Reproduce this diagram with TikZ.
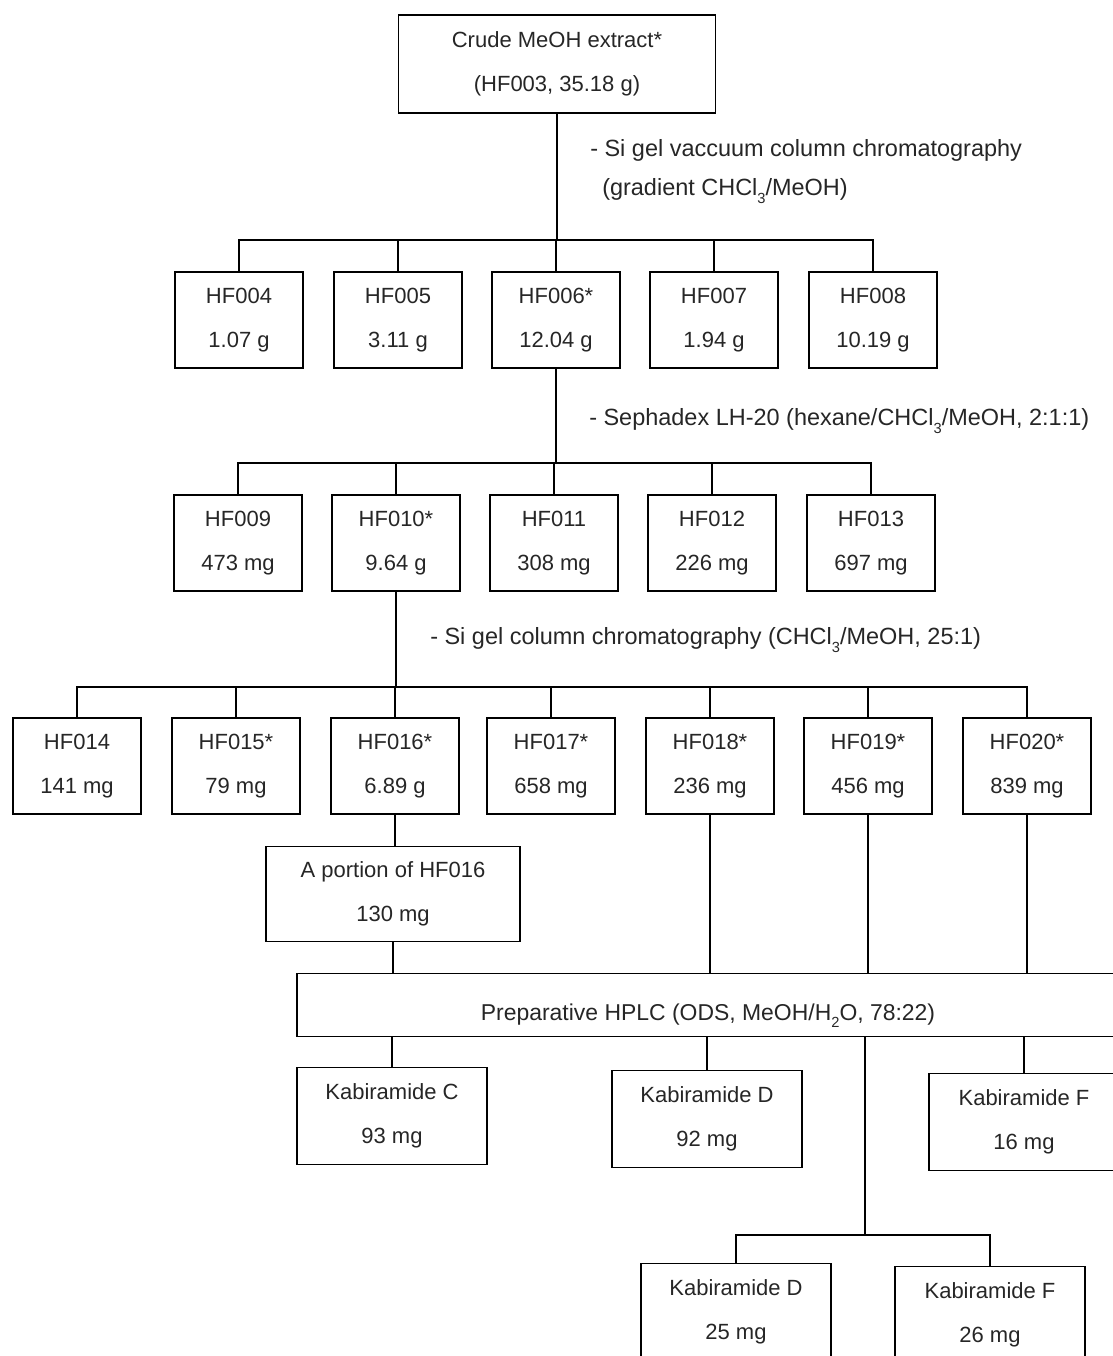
\documentclass[tikz,border=0pt]{standalone}
\usepackage{fontspec}
\setmainfont{Liberation Sans}
\newcommand\subn[1]{\raisebox{-0.6ex}{\fontsize{11}{11}\selectfont #1}}
\begin{document}
\begin{tikzpicture}[x=0.75pt,y=-0.75pt,
  every node/.style={font=\fontsize{16.5}{33}\selectfont, text=black!85},
  box/.style={draw=black, line width=1.3pt, inner sep=0pt, align=center,
    execute at begin node={\rule{0pt}{28pt}}},
  sbox/.style={box, minimum width=96pt, minimum height=72pt},
  kbox/.style={box, minimum width=143pt, minimum height=72.75pt},
  conn/.style={draw=black, line width=1.3pt},
  lbl/.style={anchor=west, inner sep=0pt, font=\fontsize{17.6}{20}\selectfont}]
\useasboundingbox (0,0) rectangle (1113,1356);
\clip (0,0) rectangle (1113,1356);

% top
\node[box, minimum width=237.75pt, minimum height=73.5pt] (top) at (557,64) {Crude MeOH extract*\\(HF003, 35.18 g)};
\coordinate (b1) at (557,240);
\node[lbl] (l1a) at (590,150) {- Si gel vaccuum column chromatography};
\node[lbl] (l1b) at (602,191) {(gradient CHCl\subn{3}/MeOH)};

% row 1
\node[sbox] (hf004) at (239,320) {HF004\\1.07 g};
\node[sbox] (hf005) at (398,320) {HF005\\3.11 g};
\node[sbox] (hf006) at (556,320) {HF006*\\12.04 g};
\node[sbox] (hf007) at (714,320) {HF007\\1.94 g};
\node[sbox] (hf008) at (873,320) {HF008\\10.19 g};

\draw[conn] (top.south) -- (b1);
\draw[conn] (hf004.north) -- (hf004.north |- b1) -- (hf008.north |- b1) -- (hf008.north);
\draw[conn] (hf005.north) -- (hf005.north |- b1);
\draw[conn] (hf006.north) -- (hf006.north |- b1);
\draw[conn] (hf007.north) -- (hf007.north |- b1);

% row 2
\coordinate (b2) at (556,463);
\node[lbl] (l2) at (589,421) {- Sephadex LH-20 (hexane/CHCl\subn{3}/MeOH, 2:1:1)};
\node[sbox] (hf009) at (238,543) {HF009\\473 mg};
\node[sbox] (hf010) at (396,543) {HF010*\\9.64 g};
\node[sbox] (hf011) at (554,543) {HF011\\308 mg};
\node[sbox] (hf012) at (712,543) {HF012\\226 mg};
\node[sbox] (hf013) at (871,543) {HF013\\697 mg};

\draw[conn] (hf006.south) -- (b2);
\draw[conn] (hf009.north) -- (hf009.north |- b2) -- (hf013.north |- b2) -- (hf013.north);
\draw[conn] (hf010.north) -- (hf010.north |- b2);
\draw[conn] (hf011.north) -- (hf011.north |- b2);
\draw[conn] (hf012.north) -- (hf012.north |- b2);

% row 3
\coordinate (b3) at (396,687);
\node[lbl] (l3) at (430,640) {- Si gel column chromatography (CHCl\subn{3}/MeOH, 25:1)};
\node[sbox] (hf014) at (77,766) {HF014\\141 mg};
\node[sbox] (hf015) at (236,766) {HF015*\\79 mg};
\node[sbox] (hf016) at (395,766) {HF016*\\6.89 g};
\node[sbox] (hf017) at (551,766) {HF017*\\658 mg};
\node[sbox] (hf018) at (710,766) {HF018*\\236 mg};
\node[sbox] (hf019) at (868,766) {HF019*\\456 mg};
\node[sbox] (hf020) at (1027,766) {HF020*\\839 mg};

\draw[conn] (hf010.south) -- (b3);
\draw[conn] (hf014.north) -- (hf014.north |- b3) -- (hf020.north |- b3) -- (hf020.north);
\draw[conn] (hf015.north) -- (hf015.north |- b3);
\draw[conn] (hf016.north) -- (hf016.north |- b3);
\draw[conn] (hf017.north) -- (hf017.north |- b3);
\draw[conn] (hf018.north) -- (hf018.north |- b3);
\draw[conn] (hf019.north) -- (hf019.north |- b3);

% portion
\node[box, minimum width=190.5pt, minimum height=71.25pt] (portion) at (393,894) {A portion of HF016\\130 mg};
\draw[conn] (hf016.south) -- (hf016.south |- portion.north);

% HPLC
\node[box, minimum width=616.5pt, minimum height=47.25pt, font=\fontsize{17.2}{33}\selectfont,
  execute at begin node={\rule{0pt}{26pt}}] (hplc) at (708,1005) {Preparative HPLC (ODS, MeOH/H\subn{2}O, 78:22)};
\draw[conn] (portion.south) -- (portion.south |- hplc.north);
\draw[conn] (hf018.south) -- (hf018.south |- hplc.north);
\draw[conn] (hf019.south) -- (hf019.south |- hplc.north);
\draw[conn] (hf020.south) -- (hf020.south |- hplc.north);

% products
\node[kbox] (kc) at (392,1116) {Kabiramide C\\93 mg};
\node[kbox] (kd) at (707,1119) {Kabiramide D\\92 mg};
\node[kbox] (kf) at (1024,1122) {Kabiramide F\\16 mg};
\draw[conn] (kc.north |- hplc.south) -- (kc.north);
\draw[conn] (kd.north |- hplc.south) -- (kd.north);
\draw[conn] (kf.north |- hplc.south) -- (kf.north);

\coordinate (b5) at (865,1235);
\node[kbox] (kd2) at (736,1312) {Kabiramide D\\25 mg};
\node[kbox] (kf2) at (990,1315) {Kabiramide F\\26 mg};
\draw[conn] (b5 |- hplc.south) -- (b5);
\draw[conn] (kd2.north) -- (kd2.north |- b5) -- (kf2.north |- b5) -- (kf2.north);
\end{tikzpicture}
\end{document}
